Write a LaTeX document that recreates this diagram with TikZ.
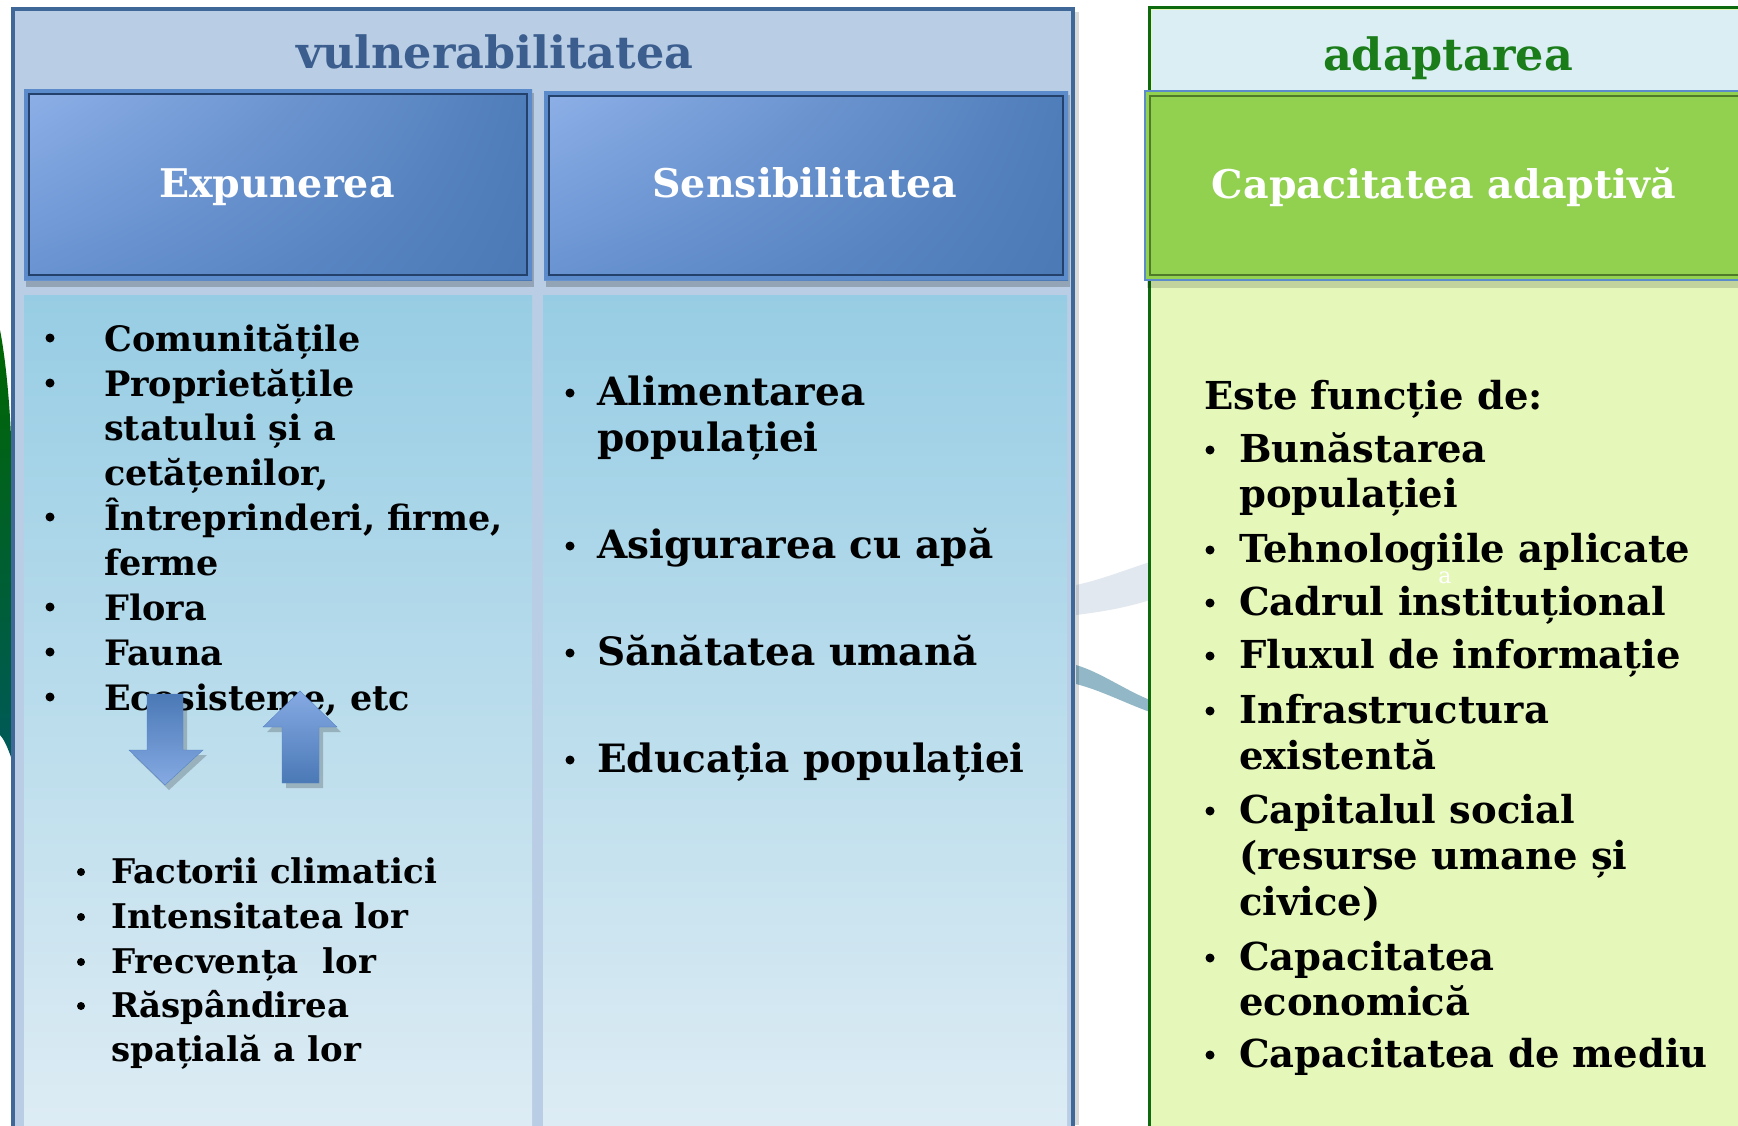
\documentclass[tikz,border=0pt]{standalone}
\usepackage{fontspec}
\setmainfont{DejaVu Serif}
\usepackage{xcolor}
\usetikzlibrary{calc,shadings}

\definecolor{cadreBleu}{HTML}{3F6797}
\definecolor{fondBleu}{HTML}{B9CDE5}
\definecolor{titreBleu}{HTML}{3B5E8E}
\definecolor{bordTete}{HTML}{5B8BCB}
\definecolor{traitTete}{HTML}{23416B}
\definecolor{teteClair}{HTML}{8EB0E8}
\definecolor{teteMilieu}{HTML}{6893D1}
\definecolor{teteFonce}{HTML}{4A79B6}
\definecolor{corpsHaut}{HTML}{97CDE4}
\definecolor{corpsBas}{HTML}{DDECF4}
\definecolor{cadreVert}{HTML}{0E6A0E}
\definecolor{bandeCyan}{HTML}{DBEEF4}
\definecolor{teteVert}{HTML}{92D050}
\definecolor{traitVert}{HTML}{4F7A2A}
\definecolor{corpsVert}{HTML}{E5F8BA}
\definecolor{titreVert}{HTML}{1A7D1A}
\definecolor{fleche}{HTML}{5585C5}

\begin{document}
\begin{tikzpicture}[x=1pt,y=-1pt,
    texte/.style={anchor=base west,inner sep=0pt,font=\bfseries\fontsize{35}{45}\selectfont},
    grand/.style={anchor=base west,inner sep=0pt,font=\bfseries\fontsize{39}{46}\selectfont},
    petit/.style={anchor=base west,inner sep=0pt,font=\bfseries\fontsize{34}{44}\selectfont},
    droite/.style={anchor=base west,inner sep=0pt,font=\bfseries\fontsize{38.5}{46}\selectfont},
    tete/.style={anchor=base,inner sep=0pt,text=white,font=\bfseries\fontsize{39.5}{48}\selectfont},
    titre/.style={anchor=base,inner sep=0pt,font=\bfseries\fontsize{44.5}{54}\selectfont},
    puce/.style={circle,fill=black,inner sep=0pt,minimum size=9pt}]

    % Cadre de la page
    \useasboundingbox (0,0) rectangle (1738,1125);
    \fill[white] (0,0) rectangle (1738,1125);

    % Fond : traits flous a gauche et entre les colonnes
    \shade[top color=green!40!black,bottom color=teal!70!black] (0,330) .. controls (6,360) and (12,420) .. (12,480) -- (12,760) .. controls (7,745) and (3,738) .. (0,735) -- cycle;
    \fill[cadreBleu!25!white,opacity=.6] (1076,585) .. controls (1100,580) and (1125,570) .. (1150,562) -- (1150,600) .. controls (1125,608) and (1100,612) .. (1076,615) -- cycle;
    \fill[cadreBleu!60!teal,opacity=.5] (1076,665) .. controls (1100,672) and (1125,690) .. (1150,700) -- (1150,712) .. controls (1125,703) and (1100,690) .. (1076,684) -- cycle;

    % Bloc de la vulnerabilite
    \fill[black,opacity=.15] (15,12) rectangle (1079,1125);
    \filldraw[fill=fondBleu,draw=cadreBleu,line width=4pt] (13,9) rectangle (1073,1135);

    % Cases d'en-tete bleues
    \fill[black,opacity=.2] (26,93) rectangle (534,287);
    \shade[upper left=teteClair,upper right=teteFonce!85!teteMilieu,lower left=teteMilieu,lower right=teteFonce] (24,89) rectangle (532,280);
    \draw[bordTete,line width=4pt] (26,91) rectangle (530,278);
    \draw[traitTete,line width=1.5pt] (29,94) rectangle (527,275);

    \fill[black,opacity=.2] (546,95) rectangle (1070,287);
    \shade[upper left=teteClair,upper right=teteFonce!85!teteMilieu,lower left=teteMilieu,lower right=teteFonce] (544,91) rectangle (1068,280);
    \draw[bordTete,line width=4pt] (546,93) rectangle (1066,278);
    \draw[traitTete,line width=1.5pt] (549,96) rectangle (1063,275);

    % Colonnes du corps
    \shade[top color=corpsHaut,bottom color=corpsBas] (24,295) rectangle (532,1125);
    \shade[top color=corpsHaut,bottom color=corpsBas] (543,295) rectangle (1067,1125);

    % Bloc de l'adaptation
    \filldraw[fill=corpsVert,draw=cadreVert,line width=3pt] (1149,7) rectangle (1745,1135);
    \fill[bandeCyan] (1152,10) rectangle (1738,91);
    \fill[black,opacity=.15] (1147,95) rectangle (1745,288);
    \fill[teteVert] (1145,91) rectangle (1745,280);
    \draw[bordTete,line width=2pt] (1145,91) rectangle (1745,280);
    \draw[traitVert,line width=1.5pt] (1150,96) rectangle (1745,275);

    % Titres et en-tetes
    \node[titre,text=titreBleu] (vuln) at (495,68) {vulnerabilitatea};
    \node[titre,text=titreVert] (adapt) at (1448,70) {adaptarea};
    \node[tete] (expu) at (277,197) {Expunerea};
    \node[tete] (sens) at (805,197) {Sensibilitatea};
    \node[tete] (capa) at (1444,198) {Capacitatea adaptivă};

    % Liste de l'expunerea
    \node[texte] (E1) at (104,351) {Comunitățile};
    \node[texte] (E2) at (104,396) {Proprietățile};
    \node[texte] (E3) at (104,440) {statului și a};
    \node[texte] (E4) at (104,485) {cetățenilor,};
    \node[texte] (E5) at (104,530) {Întreprinderi, firme,};
    \node[texte] (E6) at (104,575) {ferme};
    \node[texte] (E7) at (104,620) {Flora};
    \node[texte] (E8) at (104,665) {Fauna};
    \node[texte] (E9) at (104,710) {Ecosisteme, etc};
    \node[puce] (pE1) at (50,338) {};
    \node[puce] (pE2) at (50,383) {};
    \node[puce] (pE5) at (50,517) {};
    \node[puce] (pE7) at (50,607) {};
    \node[puce] (pE8) at (50,652) {};
    \node[puce] (pE9) at (50,697) {};

    % Liste de la sensibilitatea
    \node[grand] (S1) at (597,405) {Alimentarea};
    \node[grand] (S2) at (597,451) {populației};
    \node[grand] (S3) at (597,558) {Asigurarea cu apă};
    \node[grand] (S4) at (597,665) {Sănătatea umană};
    \node[grand] (S5) at (597,772) {Educația populației};
    \node[puce] (pS1) at (570,393) {};
    \node[puce] (pS3) at (570,546) {};
    \node[puce] (pS4) at (570,653) {};
    \node[puce] (pS5) at (570,760) {};

    % Facteurs climatiques
    \node[petit] (F1) at (111,883) {Factorii climatici};
    \node[petit] (F2) at (111,928) {Intensitatea lor};
    \node[petit] (F3) at (111,973) {Frecvența\ \ lor};
    \node[petit] (F4) at (111,1017) {Răspândirea};
    \node[petit] (F5) at (111,1061) {spațială a lor};
    \node[puce,minimum size=8pt] (pF1) at (81,872) {};
    \node[puce,minimum size=8pt] (pF2) at (81,917) {};
    \node[puce,minimum size=8pt] (pF3) at (81,962) {};
    \node[puce,minimum size=8pt] (pF4) at (81,1006) {};

    % Liste de la capacitatea adaptiva
    \node[droite] (C0) at (1204,409) {Este funcție de:};
    \node[droite] (C1) at (1239,462) {Bunăstarea};
    \node[droite] (C2) at (1239,507) {populației};
    \node[droite] (C3) at (1239,562) {Tehnologiile aplicate};
    \node[droite] (C4) at (1239,615) {Cadrul instituțional};
    \node[droite] (C5) at (1239,668) {Fluxul de informație};
    \node[droite] (C6) at (1239,723) {Infrastructura};
    \node[droite] (C7) at (1239,769) {existentă};
    \node[droite] (C8) at (1239,823) {Capitalul social};
    \node[droite] (C9) at (1239,869) {(resurse umane și};
    \node[droite] (C10) at (1239,915) {civice)};
    \node[droite] (C11) at (1239,970) {Capacitatea};
    \node[droite] (C12) at (1239,1015) {economică};
    \node[droite] (C13) at (1239,1067) {Capacitatea de mediu};
    \node[puce] (pC1) at (1210,450) {};
    \node[puce] (pC3) at (1210,550) {};
    \node[puce] (pC4) at (1210,603) {};
    \node[puce] (pC5) at (1210,656) {};
    \node[puce] (pC6) at (1210,711) {};
    \node[puce] (pC8) at (1210,811) {};
    \node[puce] (pC11) at (1210,958) {};
    \node[puce] (pC13) at (1210,1055) {};
    \node[anchor=base,inner sep=0pt,text=white,font=\fontsize{22}{24}\selectfont] (lettre) at (1445,583) {a};

    % Fleches bleues sur la liste
    \fill[black,opacity=.2] (151,699) -- (187,699) -- (187,755) -- (207,755) -- (169,790) -- (133,755) -- (151,755) -- cycle;
    \shade[top color=teteFonce,bottom color=teteClair!80!teteMilieu,draw=fleche] (147,694) -- (183,694) -- (183,750) -- (203,750) -- (165,785) -- (129,750) -- (147,750) -- cycle;
    \fill[black,opacity=.2] (304,696) -- (341,732) -- (323,732) -- (323,788) -- (286,788) -- (286,732) -- (267,732) -- cycle;
    \shade[top color=teteClair!80!teteMilieu,bottom color=teteFonce,draw=fleche] (300,691) -- (337,727) -- (319,727) -- (319,783) -- (282,783) -- (282,727) -- (263,727) -- cycle;
\end{tikzpicture}
\end{document}
